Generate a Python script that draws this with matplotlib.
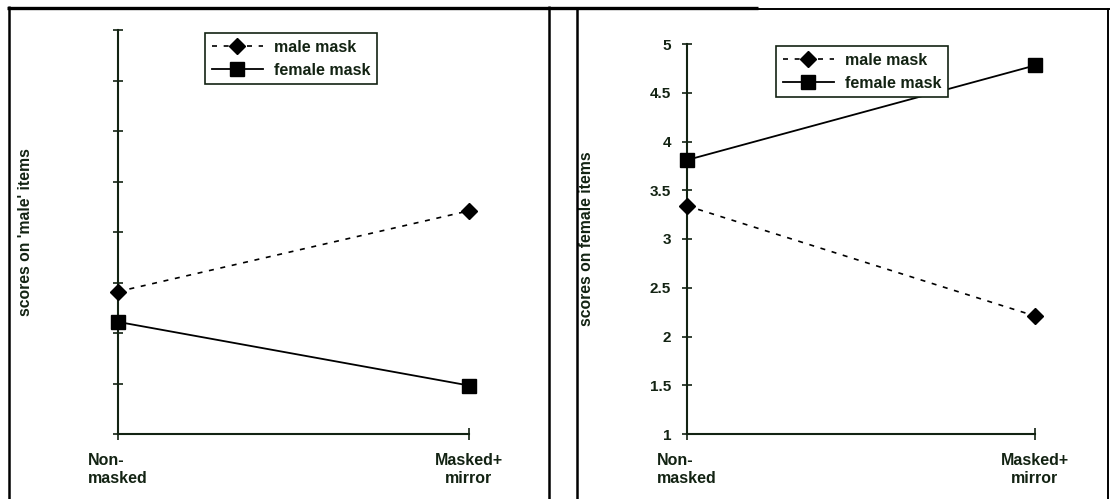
import matplotlib
matplotlib.use("Agg")
import matplotlib.pyplot as plt
from matplotlib.lines import Line2D

# data
conditions = ["Non-\nmasked", "Masked+\nmirror"]
series_names = ["male mask", "female mask"]
male_items_male = [2.41, 3.21]
male_items_female = [2.11, 1.48]
female_items_male = [3.34, 2.21]
female_items_female = [3.81, 4.78]
y_ticks = [1, 1.5, 2, 2.5, 3, 3.5, 4, 4.5, 5]
y_labels = ["scores on 'male' items", "scores on female items"]

W, H = 1110, 499
INK = "#132313"

plt.rcParams["font.family"] = ["Liberation Sans", "DejaVu Sans"]
plt.rcParams["font.weight"] = "bold"


def px_line(fig, x0, y0, x1, y1, lw):
    """Draw a decoration line given in pixel coords (origin top-left)."""
    fig.add_artist(Line2D([x0 / W, x1 / W], [1 - y0 / H, 1 - y1 / H],
                          transform=fig.transFigure, color="black",
                          lw=lw, solid_capstyle="butt"))


def draw_panel(ax, male, female, ylabel, show_labels, label_x, legend_anchor):
    x = range(len(conditions))
    ax.plot(x, male, color="black", lw=1.2, ls=(0, (3, 4)), marker="D",
            ms=8.5, label=series_names[0], clip_on=False, zorder=3)
    ax.plot(x, female, color="black", lw=1.3, ls="-", marker="s",
            ms=10.5, label=series_names[1], clip_on=False, zorder=3)
    ax.set_xlim(0, 1)
    ax.set_ylim(1, 5)
    ax.set_yticks(y_ticks)
    if show_labels:
        ax.set_yticklabels([f"{v:g}" for v in y_ticks])
    else:
        ax.set_yticklabels([])
    ax.set_xticks(list(x))
    ax.set_xticklabels(conditions, fontsize=11.5, fontweight="bold",
                       color=INK, linespacing=1.3)
    ax.get_xticklabels()[0].set_multialignment("left")
    ax.tick_params(axis="y", direction="inout", length=7, width=1.2,
                   color=INK, labelsize=11, labelcolor=INK, pad=8)
    ax.tick_params(axis="x", direction="inout", length=9, width=1.2,
                   color=INK, pad=9)
    for side in ["top", "right"]:
        ax.spines[side].set_visible(False)
    for side in ["left", "bottom"]:
        ax.spines[side].set_color(INK)
        ax.spines[side].set_linewidth(1.5)
    ax.set_ylabel(ylabel, fontsize=11.3, fontweight="bold", color=INK)
    ax.yaxis.set_label_coords(label_x, 0.5)
    leg = ax.legend(loc="upper left", bbox_to_anchor=legend_anchor,
                    borderaxespad=0, fontsize=11.5, handlelength=3.2,
                    handletextpad=0.7, labelspacing=0.5, borderpad=0.42,
                    fancybox=False, framealpha=1, edgecolor=INK)
    leg.get_frame().set_linewidth(1.2)
    for t in leg.get_texts():
        t.set_color(INK)
        t.set_fontweight("bold")


fig = plt.figure(figsize=(W / 100, H / 100), dpi=100)

ax1 = fig.add_axes([118 / W, 65 / H, 351 / W, 404 / H])
draw_panel(ax1, male_items_male, male_items_female, y_labels[0], False,
           -0.242, (0.248, 0.993))

ax2 = fig.add_axes([687 / W, 65 / H, 348 / W, 390 / H])
draw_panel(ax2, female_items_male, female_items_female, y_labels[1], True,
           -0.267, (0.256, 0.995))

# panel frames
px_line(fig, 7, 7.5, 758, 7.5, 2.4)
px_line(fig, 758, 8.5, 1110, 8.5, 1.4)
px_line(fig, 8.5, 6, 8.5, 499, 1.8)
px_line(fig, 549, 6, 549, 499, 1.8)
px_line(fig, 577, 8, 577, 499, 1.8)
px_line(fig, 1108, 8, 1108, 499, 1.4)

fig.savefig("out.png", dpi=100)
